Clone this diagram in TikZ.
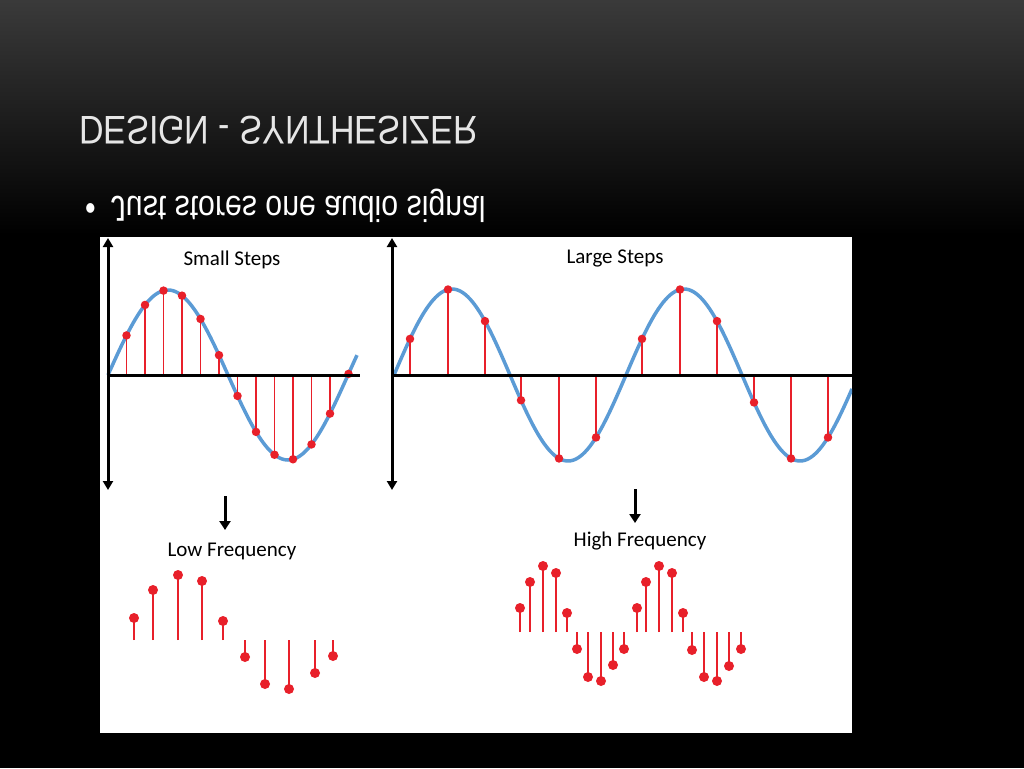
\documentclass[tikz,border=0pt]{standalone}
\usepackage{fontspec}
\setmainfont{Carlito}
\newfontfamily\titlefont{Liberation Sans}
\usetikzlibrary{arrows.meta}
\definecolor{sigblue}{HTML}{5B9BD5}
\definecolor{dotred}{HTML}{E8202A}
\definecolor{titlegray}{HTML}{E6E6E6}
\definecolor{topgray}{HTML}{3A3A3A}
\begin{document}
\begin{tikzpicture}[x=1pt,y=-1pt,
  axis/.style={line width=3pt,-{Triangle[length=9pt,width=10pt]}},
  wave/.style={sigblue,line width=3.5pt},
  stem/.style={dotred,line width=1.3pt},
  sdot/.style={circle,fill=dotred,inner sep=0pt,minimum size=8.5pt},
  lab/.style={font=\fontsize{21}{24}\selectfont,text=black},
  darr/.style={line width=3pt,-{Triangle[length=9pt,width=11pt]}}]
\useasboundingbox (0,0) rectangle (1024,768);
\fill[black] (0,0) rectangle (1024,768);
\shade[top color=topgray, bottom color=black] (0,0) rectangle (1024,235);
\begin{scope}[yscale=-1]
\node[anchor=west,text=titlegray,font=\titlefont\fontsize{40}{44}\selectfont,transform shape,xscale=0.85,inner sep=0pt] (title) at (79,-130) {DESIGN - SYNTHESIZER};
\node[anchor=west,text=white,font=\titlefont\fontsize{36}{40}\selectfont,transform shape,xscale=0.84,inner sep=0pt] (bul) at (85,-206) {\textbullet\hspace{18pt}Just stores one audio signal};
\end{scope}
\fill[white] (100,237) rectangle (852,733);
\begin{scope}
\clip (100,237) rectangle (852,733);
\draw[wave] plot[domain=108:357,samples=120,smooth] (\x,{375-85*sin(1.5*(\x-108))});
\foreach \i in {1,...,13}{
  \pgfmathsetmacro\xx{108+18.5*\i}
  \pgfmathsetmacro\yy{375-85*sin(1.5*(\xx-108))}
  \draw[stem] (\xx,375) -- (\xx,\yy);
  \node[sdot] at (\xx,\yy) {};
}
\draw[wave] plot[domain=394:852,samples=200,smooth] (\x,{375-86*sin(1.5517*(\x-394))});
\foreach \xx in {410,448,485,521,559,596,642,680,717,754,791,828}{
  \pgfmathsetmacro\yy{375-86*sin(1.5517*(\xx-394))}
  \draw[stem] (\xx,375) -- (\xx,\yy);
  \node[sdot] at (\xx,\yy) {};
}
\end{scope}
\coordinate (l0) at (108,375); \coordinate (l1) at (360,375);
\coordinate (r0) at (392,375); \coordinate (r1) at (852,375);
\draw[line width=3pt] (l0) -- (l1);
\draw[line width=3pt] (r0) -- (r1);
\coordinate (lt) at (108,238); \coordinate (lb) at (108,490);
\coordinate (rt) at (392,238); \coordinate (rb) at (392,490);
\draw[axis] (l0) -- (lt); \draw[axis] (l0) -- (lb);
\draw[axis] (r0) -- (rt); \draw[axis] (r0) -- (rb);
\node[lab] (ss) at (232,260) {Small Steps};
\node[lab] (ls) at (615,258) {Large Steps};
\coordinate (a1) at (225,496); \coordinate (a2) at (225,530);
\coordinate (b1) at (635,489); \coordinate (b2) at (635,523);
\draw[darr] (a1) -- (a2);
\draw[darr] (b1) -- (b2);
\node[lab] (lf) at (232,551) {Low Frequency};
\node[lab] (hf) at (640,541) {High Frequency};
\foreach \x/\y in {134/618,153/590,178/575,202/581,223/621,245/657,265/684,289/689,315/673,333/656}{
  \draw[dotred,line width=2pt] (\x,640) -- (\x,\y);
  \node[sdot,minimum size=10pt] at (\x,\y) {};
}
\foreach \x/\y in {520/608,530/582,543/566,556/573,567/613,577/649,588/677,601/681,613/665,624/649,
                   637/608,646/582,659/566,672/573,683/613,692/650,704/677,717/681,729/666,741/649}{
  \draw[dotred,line width=1.3pt] (\x,632) -- (\x,\y);
  \node[sdot,minimum size=10pt] at (\x,\y) {};
}
\end{tikzpicture}
\end{document}
